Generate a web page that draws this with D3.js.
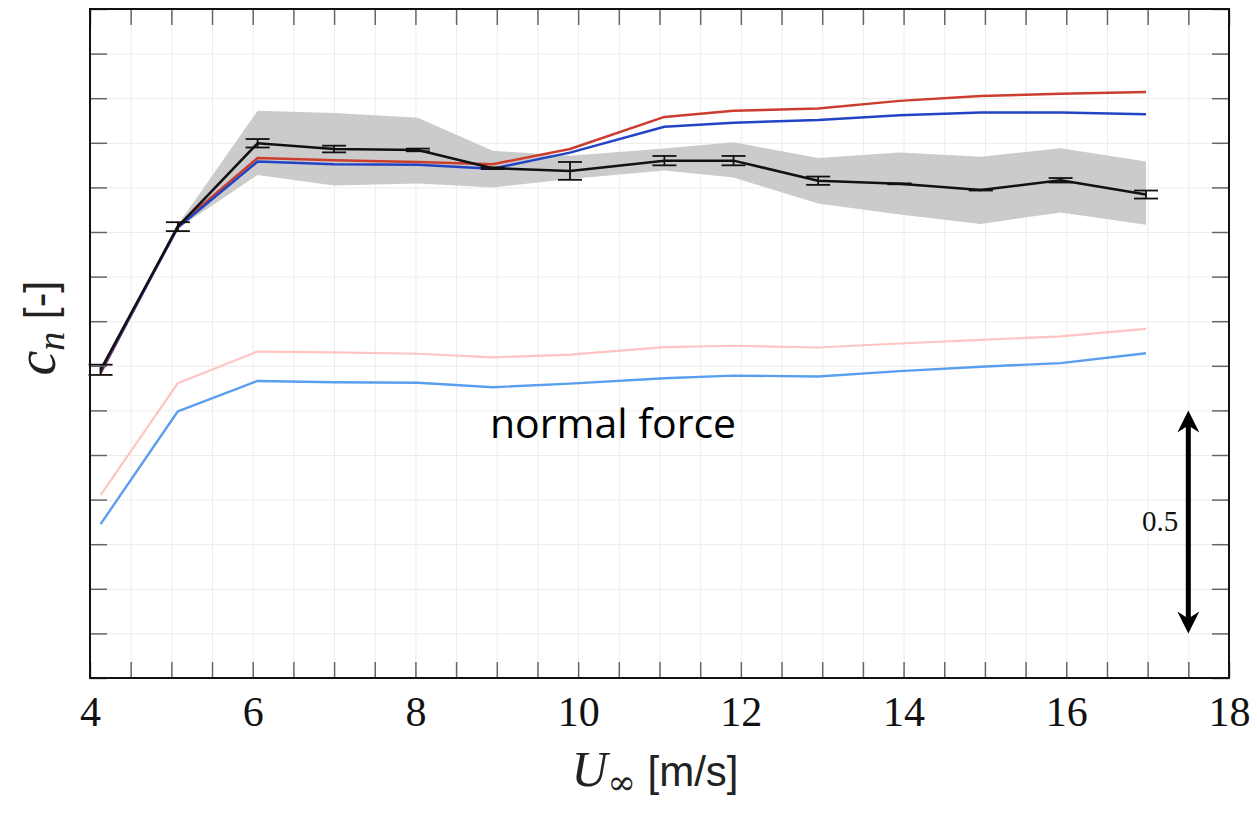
<!DOCTYPE html>
<html>
<head>
<meta charset="utf-8">
<script src="https://cdn.jsdelivr.net/npm/d3@7"></script>
<style>
  html, body { margin: 0; padding: 0; background: #fff; }
  svg { display: block; }
</style>
</head>
<body>
<svg id="chart" width="1257" height="817"></svg>
<script>
// ---- data ----
const windSpeed = [4.13, 5.08, 6.06, 7.0, 8.03, 8.95, 9.9, 11.06, 11.91, 12.95, 13.95, 14.95, 15.93, 16.98];
const expMean   = [0.691, 1.012, 1.199, 1.186, 1.184, 1.143, 1.137, 1.160, 1.160, 1.115, 1.108, 1.094, 1.116, 1.084];
const expErr    = [0.0115, 0.010, 0.0095, 0.0075, 0.003, 0.002, 0.020, 0.0105, 0.0105, 0.0093, 0.001, 0.001, 0.005, 0.009];
const bandLow   = [0.691, 1.008, 1.128, 1.104, 1.109, 1.100, 1.119, 1.138, 1.122, 1.064, 1.039, 1.018, 1.044, 1.016];
const bandHigh  = [0.691, 1.016, 1.272, 1.267, 1.256, 1.182, 1.171, 1.187, 1.201, 1.166, 1.178, 1.169, 1.188, 1.158];
const simRed    = [0.683, 1.014, 1.166, 1.161, 1.157, 1.152, 1.186, 1.258, 1.272, 1.277, 1.294, 1.305, 1.310, 1.314];
const simBlue   = [0.687, 1.010, 1.158, 1.152, 1.151, 1.142, 1.178, 1.236, 1.245, 1.251, 1.262, 1.268, 1.268, 1.264];
const simPink   = [0.410, 0.661, 0.732, 0.730, 0.727, 0.719, 0.725, 0.742, 0.745, 0.741, 0.750, 0.758, 0.766, 0.783];
const simLtBlue = [0.345, 0.598, 0.666, 0.663, 0.662, 0.652, 0.660, 0.672, 0.678, 0.676, 0.688, 0.698, 0.706, 0.728];
const xTickLabels = [4, 6, 8, 10, 12, 14, 16, 18];
const xMinorTicks = d3.range(4, 18.001, 0.5);
const yTicks = d3.range(0, 1.5001, 0.1);
const scaleBar = [0.1, 0.6];

// ---- layout ----
const svg = d3.select("#chart");
const L = 90, R = 1229, T = 9, B = 678;
const x = d3.scaleLinear().domain([4, 18]).range([L, R]);
const y = d3.scaleLinear().domain([0, 1.5]).range([B, T]);
const H = B - T, W = R - L;

// grid
svg.append("g").attr("transform", `translate(0,${B})`)
  .call(d3.axisBottom(x).tickValues(xMinorTicks).tickSize(-H).tickFormat(""))
  .call(g => g.select(".domain").remove())
  .call(g => g.selectAll("line").attr("stroke", "#ececec").attr("stroke-width", 1));
svg.append("g").attr("transform", `translate(${L},0)`)
  .call(d3.axisLeft(y).tickValues(yTicks).tickSize(-W).tickFormat(""))
  .call(g => g.select(".domain").remove())
  .call(g => g.selectAll("line").attr("stroke", "#ececec").attr("stroke-width", 1));

// band
const area = d3.area()
  .x((d, i) => x(windSpeed[i]))
  .y0((d, i) => y(bandLow[i]))
  .y1((d, i) => y(bandHigh[i]));
svg.append("path").datum(windSpeed).attr("d", area).attr("fill", "#cbcbcb");

function drawLine(vals, color, width) {
  const line = d3.line().x((d, i) => x(windSpeed[i])).y(d => y(d));
  svg.append("path").datum(vals).attr("d", line)
    .attr("fill", "none").attr("stroke", color).attr("stroke-width", width)
    .attr("stroke-linejoin", "round");
}
drawLine(simPink, "#ffc4c4", 2.2);
drawLine(simLtBlue, "#5a9ef0", 2.4);
drawLine(simRed, "#cc3d2e", 2.5);
drawLine(simBlue, "#2244c4", 2.5);
drawLine(expMean, "#111", 2.5);

// error bars
const eb = svg.append("g").attr("stroke", "#111").attr("stroke-width", 1.8);
windSpeed.forEach((s, i) => {
  const cx = x(s), y0 = y(expMean[i] - expErr[i]), y1 = y(expMean[i] + expErr[i]);
  eb.append("line").attr("x1", cx).attr("x2", cx).attr("y1", y0).attr("y2", y1);
  eb.append("line").attr("x1", cx - 12).attr("x2", cx + 12).attr("y1", y0).attr("y2", y0);
  eb.append("line").attr("x1", cx - 12).attr("x2", cx + 12).attr("y1", y1).attr("y2", y1);
});

// ticks (inward, all four sides)
const tickStyle = g => {
  g.select(".domain").remove();
  g.selectAll("line").attr("stroke", "#666").attr("stroke-width", 1.5);
};
svg.append("g").attr("transform", `translate(0,${B})`)
  .call(d3.axisBottom(x).tickValues(xMinorTicks).tickSize(-16).tickFormat("")).call(tickStyle);
svg.append("g").attr("transform", `translate(0,${T})`)
  .call(d3.axisTop(x).tickValues(xMinorTicks).tickSize(-16).tickFormat("")).call(tickStyle);
svg.append("g").attr("transform", `translate(${L},0)`)
  .call(d3.axisLeft(y).tickValues(yTicks).tickSize(-17).tickFormat("")).call(tickStyle);
svg.append("g").attr("transform", `translate(${R},0)`)
  .call(d3.axisRight(y).tickValues(yTicks).tickSize(-17).tickFormat("")).call(tickStyle);

// tick labels
svg.append("g").attr("transform", `translate(0,${B})`)
  .call(d3.axisBottom(x).tickValues(xTickLabels).tickSize(0).tickPadding(18).tickFormat(d3.format("d")))
  .call(g => g.select(".domain").remove())
  .call(g => g.selectAll("text").attr("font-family", "'Liberation Serif', serif")
    .attr("font-size", 42).attr("fill", "#111"));

// frame
svg.append("rect").attr("x", L).attr("y", T).attr("width", W).attr("height", H)
  .attr("fill", "none").attr("stroke", "#111").attr("stroke-width", 2);

// scale arrow
const ax = x(17.5), yTop = y(scaleBar[1]), yBot = y(scaleBar[0]);
svg.append("line").attr("x1", ax).attr("x2", ax).attr("y1", yTop + 14).attr("y2", yBot - 14)
  .attr("stroke", "#000").attr("stroke-width", 5);
svg.append("path").attr("d", `M${ax},${yTop} L${ax + 11},${yTop + 22} L${ax},${yTop + 15} L${ax - 11},${yTop + 22} Z`).attr("fill", "#000");
svg.append("path").attr("d", `M${ax},${yBot} L${ax + 11},${yBot - 22} L${ax},${yBot - 15} L${ax - 11},${yBot - 22} Z`).attr("fill", "#000");
svg.append("text").attr("x", ax - 10).attr("y", y((scaleBar[0] + scaleBar[1]) / 2) + 9)
  .attr("text-anchor", "end").attr("font-family", "'Liberation Serif', serif")
  .attr("font-size", 29).attr("fill", "#111").text(d3.format(".1f")(scaleBar[1] - scaleBar[0]));

// annotation
svg.append("text").attr("x", 613).attr("y", 438).attr("text-anchor", "middle")
  .attr("font-family", "'Open Sans', sans-serif").attr("font-size", 41).attr("fill", "#000")
  .text("normal force");

// x label
const xl = svg.append("text").attr("x", 655).attr("y", 786).attr("text-anchor", "middle").attr("fill", "#222");
xl.append("tspan").attr("font-family", "'Liberation Serif', serif").attr("font-style", "italic").attr("font-size", 50).text("U");
xl.append("tspan").attr("font-family", "'DejaVu Serif', serif").attr("font-size", 34).attr("dy", 8).text("∞");
xl.append("tspan").attr("font-family", "'Liberation Sans', sans-serif").attr("font-size", 42).attr("dy", -8).text(" [m/s]");

// y label
const yl = svg.append("text").attr("transform", "translate(55,328) rotate(-90)").attr("text-anchor", "middle").attr("fill", "#222");
yl.append("tspan").attr("font-family", "'Liberation Serif', serif").attr("font-style", "italic").attr("font-size", 56).text("c");
yl.append("tspan").attr("font-family", "'Liberation Serif', serif").attr("font-style", "italic").attr("font-size", 38).attr("dy", 9).text("n");
yl.append("tspan").attr("font-family", "'Liberation Sans', sans-serif").attr("font-size", 44).attr("dy", -9).text(" [-]");
</script>
</body>
</html>
